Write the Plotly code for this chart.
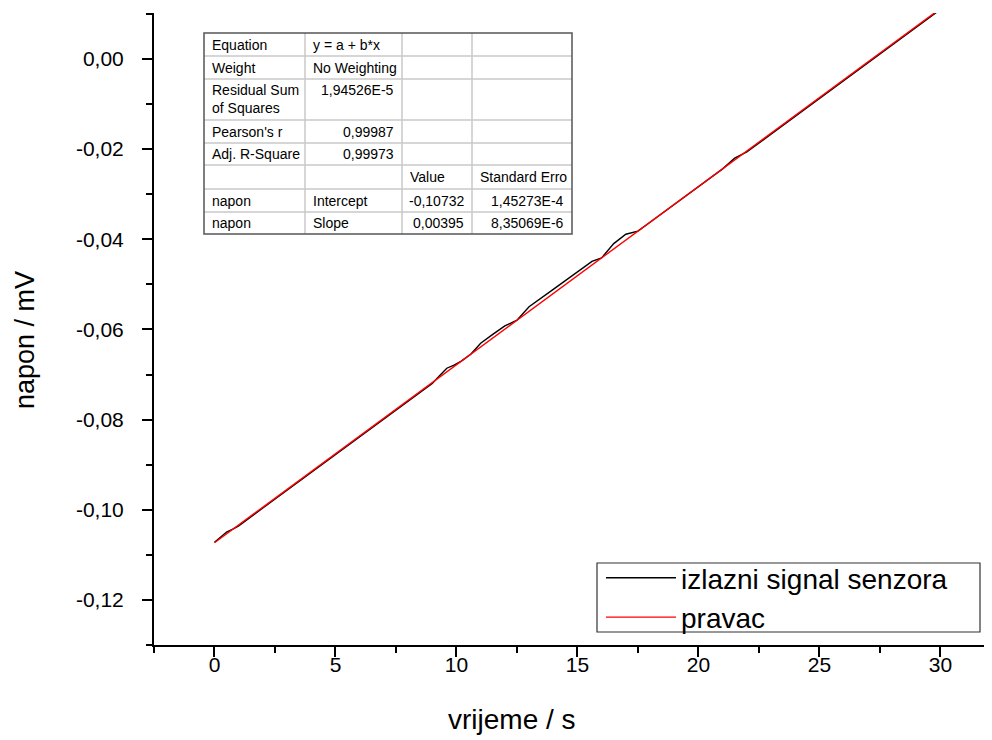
import plotly.graph_objects as go

# ---------------- data ----------------
time_s = [0, 0.5, 0.8, 1.0, 2.0, 3.0, 4.0, 5.0, 6.0, 7.0, 8.0, 9.0, 9.3, 9.6, 9.9,
          10.2, 10.6, 11.0, 11.5, 12.0, 12.5, 13.0, 14.0, 15.0, 15.6, 16.0, 16.5,
          17.0, 17.5, 18.0, 19.0, 20.0, 21.0, 21.5, 22.0, 23.0, 24.0, 25.0, 26.0,
          27.0, 28.0, 29.0, 30.0]
signal_mV = [-0.10722, -0.10495, -0.10416, -0.10357, -0.09962, -0.09567, -0.09172,
             -0.08777, -0.08382, -0.07987, -0.07592, -0.07197, -0.07028, -0.06860,
             -0.06792, -0.06703, -0.06545, -0.06307, -0.06110, -0.05922, -0.05795,
             -0.05497, -0.05112, -0.04727, -0.04490, -0.04412, -0.04095, -0.03887,
             -0.03820, -0.03622, -0.03227, -0.02832, -0.02437, -0.02200, -0.02062,
             -0.01667, -0.01272, -0.00877, -0.00482, -0.00087, 0.00308, 0.00703,
             0.01098]

fit_time_s = [0, 30]
fit_mV = [-0.10732, 0.01118]

series_names = ["izlazni signal senzora", "pravac"]

x_tickvals = [0, 5, 10, 15, 20, 25, 30]
y_tickvals = [0.00, -0.02, -0.04, -0.06, -0.08, -0.10, -0.12]
y_ticktext = ["0,00", "-0,02", "-0,04", "-0,06", "-0,08", "-0,10", "-0,12"]

table_col1 = ["Equation", "Weight", "Residual Sum<br>of Squares", "Pearson's r",
              "Adj. R-Square", "", "napon", "napon"]
table_col2 = ["y = a + b*x", "No Weighting", "1,94526E-5", "0,99987", "0,99973",
              "", "Intercept", "Slope"]
table_col3 = ["", "", "", "", "", "Value", "-0,10732", "0,00395"]
table_col4 = ["", "", "", "", "", "Standard Erro", "1,45273E-4", "8,35069E-6"]

# ---------------- layout geometry ----------------
OFF = 8                      # page offset of the plot div (body margin)
W, H = 992 - OFF, 740 - OFF
ML, MR, MT, MB = 154 - OFF, 2, 13 - OFF, 740 - 645
PW = W - ML - MR
PH = H - MT - MB
FONT = "Liberation Sans, Arial, sans-serif"


def px(x):
    """page pixel x -> paper x"""
    return (x - OFF - ML) / PW


def py(y):
    """page pixel y -> paper y"""
    return (H - MB - (y - OFF)) / PH


fig = go.Figure()
fig.add_trace(go.Scatter(x=time_s, y=signal_mV, mode="lines", name=series_names[0],
                         line=dict(color="black", width=1.4)))
fig.add_trace(go.Scatter(x=fit_time_s, y=fit_mV, mode="lines", name=series_names[1],
                         line=dict(color="#ff0000", width=1.4)))

shapes = []
annotations = []

# ---- table (fit results) ----
col_x = [204, 305, 402, 472, 572]
row_y = [33, 56, 79, 120, 143, 165, 189, 212, 234]
grid_color = "#c8c8c8"
for cx in col_x[1:-1]:
    shapes.append(dict(type="line", xref="paper", yref="paper", x0=px(cx), x1=px(cx),
                       y0=py(row_y[0]), y1=py(row_y[-1]),
                       line=dict(color=grid_color, width=1.5)))
for ry in row_y[1:-1]:
    shapes.append(dict(type="line", xref="paper", yref="paper", x0=px(col_x[0]), x1=px(col_x[-1]),
                       y0=py(ry), y1=py(ry), line=dict(color=grid_color, width=1.5)))
shapes.append(dict(type="rect", xref="paper", yref="paper", x0=px(col_x[0]), x1=px(col_x[-1]),
                   y0=py(row_y[0]), y1=py(row_y[-1]), line=dict(color="#555555", width=1.5)))

tfont = dict(family=FONT, size=14, color="black")


def number_like(s):
    return any(ch.isdigit() for ch in s) and "=" not in s


cols = [table_col1, table_col2, table_col3, table_col4]
for i in range(len(table_col1)):
    top, bot = row_y[i], row_y[i + 1]
    yc = (top + bot) / 2
    for j, col in enumerate(cols):
        txt = col[i]
        if not txt:
            continue
        yy = yc if (i != 2 or j == 0) else top + 11
        if number_like(txt):
            annotations.append(dict(x=px(col_x[j + 1] - 6), y=py(yy), xref="paper", yref="paper",
                                    text=txt, showarrow=False, xanchor="right", yanchor="middle",
                                    align="right", font=tfont))
        else:
            annotations.append(dict(x=px(col_x[j] + 6), y=py(yy), xref="paper", yref="paper",
                                    text=txt, showarrow=False, xanchor="left", yanchor="middle",
                                    align="left", font=tfont))

# ---- legend box ----
shapes.append(dict(type="rect", xref="paper", yref="paper", x0=px(597), x1=px(980),
                   y0=py(632), y1=py(563), line=dict(color="#333333", width=1.2),
                   fillcolor="white", layer="above"))

# ---- axis titles ----
annotations.append(dict(x=px(512), y=py(719), xref="paper", yref="paper", text="vrijeme / s",
                        showarrow=False, xanchor="center", yanchor="middle",
                        font=dict(family=FONT, size=28, color="black")))
annotations.append(dict(x=px(25), y=py(340), xref="paper", yref="paper", text="napon / mV",
                        showarrow=False, xanchor="center", yanchor="middle", textangle=-90,
                        font=dict(family=FONT, size=27, color="black")))

fig.update_layout(
    width=W, height=H,
    margin=dict(l=ML, r=MR, t=MT, b=MB),
    paper_bgcolor="white", plot_bgcolor="white",
    font=dict(family=FONT, size=22, color="black"),
    shapes=shapes, annotations=annotations,
    showlegend=True,
    legend=dict(x=px(601), y=py(553), xanchor="left", yanchor="top",
                bgcolor="rgba(0,0,0,0)", borderwidth=0,
                font=dict(family=FONT, size=28, color="black"),
                itemwidth=70, tracegroupgap=0),
)
fig.update_xaxes(range=[-2.5, 32.05], showgrid=False, zeroline=False,
                 showline=True, linecolor="black", linewidth=2,
                 ticks="outside", ticklen=10, tickwidth=2, tickcolor="black",
                 tickvals=x_tickvals, ticktext=[str(v) for v in x_tickvals],
                 ticklabelstandoff=-10,
                 tickfont=dict(family=FONT, size=21, color="black"),
                 minor=dict(dtick=2.5, tick0=0, ticks="outside", ticklen=6, tickwidth=2,
                            tickcolor="black", showgrid=False))
fig.update_yaxes(range=[-0.13, 0.0102], showgrid=False, zeroline=False,
                 showline=True, linecolor="black", linewidth=2,
                 ticks="outside", ticklen=10, tickwidth=2, tickcolor="black",
                 tickvals=y_tickvals, ticktext=y_ticktext, ticklabelstandoff=14,
                 tickfont=dict(family=FONT, size=21, color="black"),
                 minor=dict(dtick=0.01, tick0=0, ticks="outside", ticklen=6, tickwidth=2,
                            tickcolor="black", showgrid=False))

fig.write_html("out.html")
